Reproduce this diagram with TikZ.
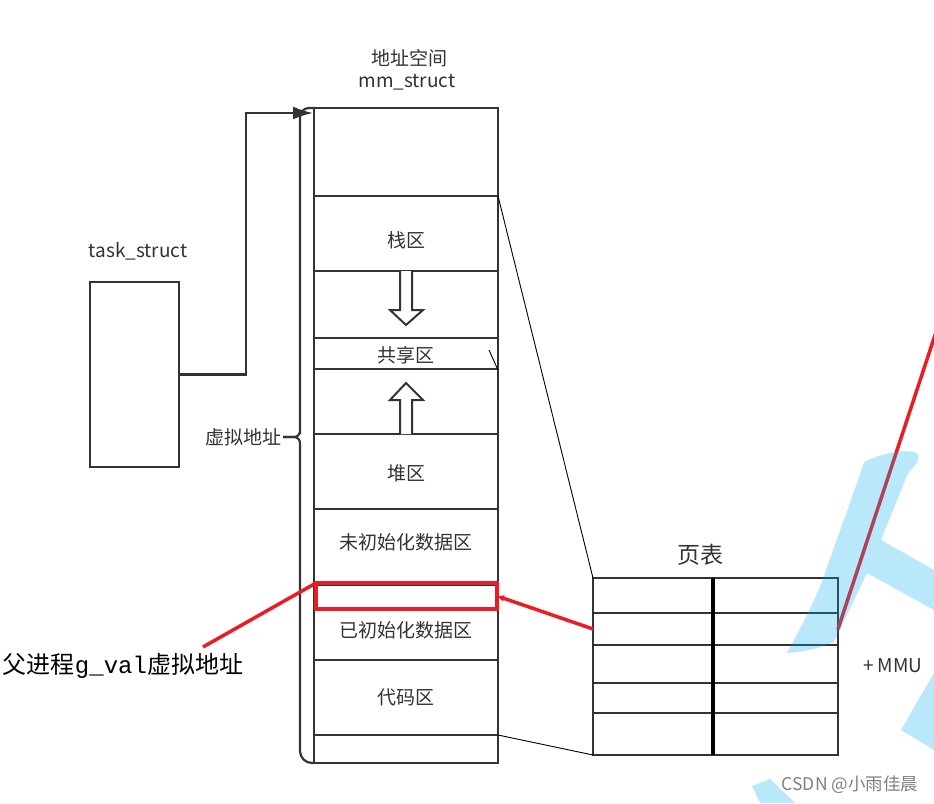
\documentclass[tikz,border=0pt]{standalone}
\usepackage{fontspec}
\setmainfont{Noto Sans CJK SC}
\setmonofont{Liberation Mono}
\usetikzlibrary{arrows.meta,positioning}
\definecolor{boxgray}{RGB}{51,51,51}
\definecolor{txtgray}{RGB}{50,50,50}
\definecolor{markred}{RGB}{237,28,36}
\definecolor{wmblue}{RGB}{0,170,240}

\begin{document}
\begin{tikzpicture}[x=1pt,y=-1pt,every node/.style={inner sep=0pt,outer sep=0pt}]
  \tikzstyle{seg}=[draw=boxgray,line width=2.5pt,minimum width=184pt]
  \tikzstyle{row}=[draw=boxgray,line width=2.5pt,minimum width=245pt]
  \tikzstyle{lbl}=[text=txtgray,font=\fontsize{19}{21}\selectfont]
  \tikzstyle{hollow}=[draw=boxgray,line width=2pt,fill=white,line join=miter]
  \tikzstyle{redline}=[markred,line width=3.5pt]
  \tikzstyle{thin}=[black,line width=0.9pt]
  \useasboundingbox (0,0) rectangle (934,803);

  % -- task_struct --
  \node[draw=boxgray,line width=2.5pt,minimum width=89pt,minimum height=185pt] (task) at (134.5,374.5) {};
  \node[lbl] at (138,251) {task\_struct};

  % -- mm_struct stack --
  \node[lbl] at (409,58) {地址空间};
  \node[lbl] at (407,82) {mm\_struct};
  \node[seg,minimum height=88pt] (top)   at (406,152)   {};
  \node[seg,minimum height=75pt] (stack) at (406,233.5) {};
  \node[seg,minimum height=67pt] (gapa)  at (406,304.5) {};
  \node[seg,minimum height=31pt] (share) at (406,353.5) {};
  \node[seg,minimum height=65pt] (gapb)  at (406,401.5) {};
  \node[seg,minimum height=75pt] (heap)  at (406,471.5) {};
  \node[seg,minimum height=76pt] (bss)   at (406,547)   {};
  \node[seg,minimum height=75pt] (data)  at (406,622.5) {};
  \node[seg,minimum height=75pt] (code)  at (406,697.5) {};
  \node[seg,minimum height=28pt] (last)  at (406,749)   {};
  \node[lbl] at ([yshift=-7pt]stack.center) {栈区};
  \node[lbl] at ([yshift=-2pt]share.center) {共享区};
  \node[lbl] at ([yshift=-2pt]heap.center)  {堆区};
  \node[lbl] at ([yshift=5pt]bss.center)    {未初始化数据区};
  \node[lbl] at ([yshift=-8pt]data.center)  {已初始化数据区};
  \node[lbl] at (code.center)               {代码区};

  % -- growth arrows --
  \draw[hollow] (400,271) -- (400,310) -- (390,310) -- (406,325) -- (423,310) -- (412,310) -- (412,271);
  \draw[hollow] (400,434) -- (400,400) -- (390,400) -- (406,383) -- (423,400) -- (412,400) -- (412,434);

  % -- brace + pointer --
  \draw[boxgray,line width=2.2pt,rounded corners=9pt] (top.north west) -- (300,108) -- (300,425)
    [rounded corners=6pt] -- (300,437) -- (283,437);
  \draw[boxgray,line width=2.2pt,rounded corners=6pt] (283,437) -- (300,437) -- (300,460)
    [rounded corners=12pt] -- (300,763) -- (last.south west);
  \node[lbl,left=2pt of {(283,437)}] (vaddr) {虚拟地址};
  \draw[boxgray,line width=2.2pt,-{Latex[length=20pt,width=13pt]}] (task.east) -- (246,374.5) -- (246,113) -- (313,113);

  % -- page table --
  \node[font=\fontsize{23}{25}\selectfont,text=txtgray] at (700,555) {页表};
  \node[row,minimum height=35pt] (pt1) at (715.5,595.5) {};
  \node[row,minimum height=32pt] (pt2) at (715.5,629)   {};
  \node[row,minimum height=38pt] (pt3) at (715.5,664)   {};
  \node[row,minimum height=30pt] (pt4) at (715.5,698)   {};
  \node[row,minimum height=42pt] (pt5) at (715.5,734)   {};
  \draw[black,line width=4pt] (713,578) -- (713,755);
  \node[lbl] (mmu) at (893,666) {+\,MMU};

  % -- mapping lines --
  \draw[thin] (stack.north east) -- (pt1.north west);
  \draw[thin] (code.south east) -- (pt5.south west);
  \draw[thin] (489,350) -- (498,370);

  % -- g_val --
  \node[text=black,font=\fontsize{24}{26}\selectfont] (gval) at (123,666) {父进程\texttt{g\_val}虚拟地址};
  \coordinate (gvtip) at (203,647);
  \node[draw=markred,line width=3.5pt,minimum width=181pt,minimum height=26pt] (gvbox) at (406.5,596) {};
  \draw[redline] (gvtip) -- (gvbox.north west);
  \draw[redline,-{Latex[length=7pt,width=7pt]}] (pt2.west) -- (gvbox.east);
  \coordinate (offpage) at (938,326);
  \draw[redline] (pt2.east) -- (offpage);

  % -- watermark --
  \fill[wmblue,opacity=0.27] (864,462) .. controls (885,452) and (905,449) .. (917,453)
    .. controls (921,460) and (915,466) .. (908,473) -- (881,540) -- (867,573) -- (834,642)
    .. controls (815,650) and (800,652) .. (787,653) .. controls (805,620) and (820,590) .. (826,570)
    .. controls (840,530) and (855,490) .. (864,462) -- cycle;
  \fill[wmblue,opacity=0.27] (881,540) -- (934,570) -- (934,610) -- (867,573) -- cycle;
  \fill[wmblue,opacity=0.27] (901,730) -- (934,673) -- (934,750) -- cycle;
  \fill[wmblue,opacity=0.27] (752,786) -- (770,779) -- (795,803) -- (760,803) -- cycle;
  \node[text=gray,font=\fontsize{17.5}{19}\selectfont] (csdn) at (850,785) {CSDN @小雨佳晨};
\end{tikzpicture}
\end{document}
